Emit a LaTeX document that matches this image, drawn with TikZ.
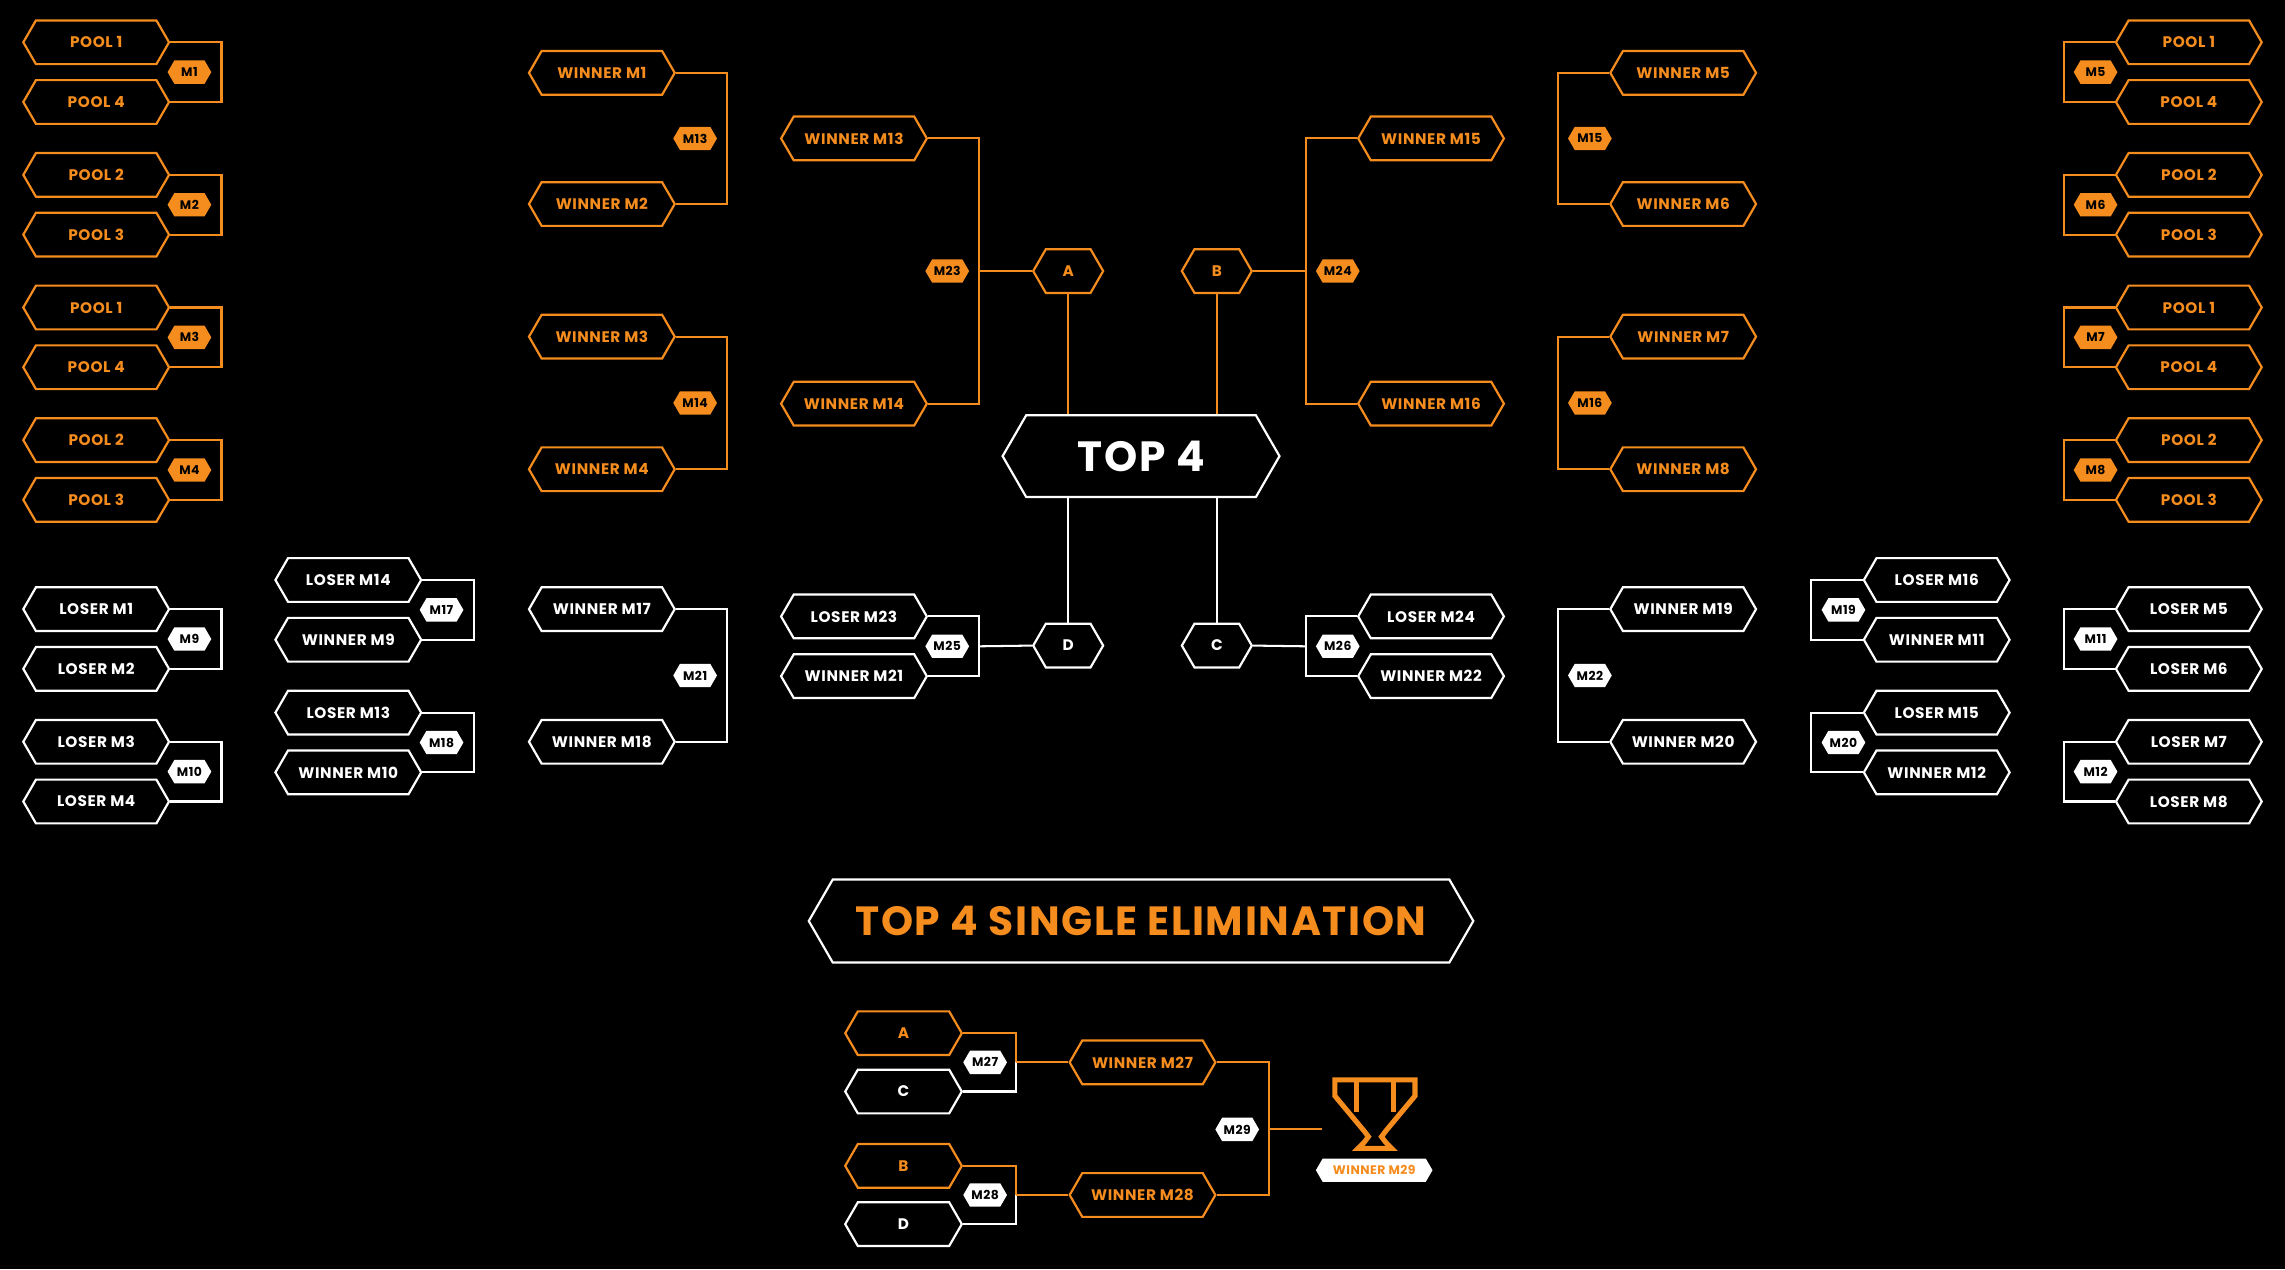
\documentclass[tikz,border=0pt]{standalone}
\usepackage{fontspec}
\setmainfont{Poppins}[LetterSpace=4]
\usetikzlibrary{shapes.symbols}
\definecolor{orng}{RGB}{245,140,30}
\tikzset{
 hexa/.style={shape=signal, signal to=west and east, signal pointer angle=120, inner sep=0pt},
 box/.style={hexa, draw=#1, text=#1, line width=1.5pt, minimum width=100pt, minimum height=30pt, font=\bfseries\fontsize{10.5}{10.5}\selectfont},
 tagb/.style={hexa, fill=#1, text=black, minimum width=30pt, minimum height=16pt, font=\bfseries\fontsize{8.5}{8.5}\selectfont},
 ln/.style={draw=#1, line width=1.4pt},
}
\newcommand\bpair[8]{%
 \pgfmathsetmacro\ym{(#3+#4)/2}%
 \pgfmathsetmacro\xt{#2+\dir*64}%
 \pgfmathsetmacro\xb{#2+\dir*86}%
 \node[box=#5] (#1a) at (#2,#3) {#6};
 \node[box=#5] (#1b) at (#2,#4) {#7};
 \coordinate (#1o) at (\xb,\ym);
 \draw[ln=#5] (#1a.\side) -- (#1a.\side -| #1o) -- (#1b.\side -| #1o) -- (#1b.\side);
 \node[tagb=#5] (#1t) at (\xt,\ym) {#8};
}
\begin{document}
\begin{tikzpicture}[x=1pt,y=-1pt]
\fill[black] (0,0) rectangle (1568,871);
\useasboundingbox (0,0) rectangle (1568,871);
% left
\def\dir{1}\def\side{east}
\bpair{p1}{66}{29}{70}{orng}{POOL 1}{POOL 4}{M1}
\bpair{p2}{66}{120}{161}{orng}{POOL 2}{POOL 3}{M2}
\bpair{p3}{66}{211}{252}{orng}{POOL 1}{POOL 4}{M3}
\bpair{p4}{66}{302}{343}{orng}{POOL 2}{POOL 3}{M4}
\bpair{l9}{66}{418}{459}{white}{LOSER M1}{LOSER M2}{M9}
\bpair{l10}{66}{509}{550}{white}{LOSER M3}{LOSER M4}{M10}
\bpair{c17}{239}{398}{439}{white}{LOSER M14}{WINNER M9}{M17}
\bpair{c18}{239}{489}{530}{white}{LOSER M13}{WINNER M10}{M18}
\bpair{w13}{413}{50}{140}{orng}{WINNER M1}{WINNER M2}{M13}
\bpair{w14}{413}{231}{322}{orng}{WINNER M3}{WINNER M4}{M14}
\bpair{w21}{413}{418}{509}{white}{WINNER M17}{WINNER M18}{M21}
\bpair{w23}{586}{95}{277}{orng}{WINNER M13}{WINNER M14}{M23}
\bpair{w25}{586}{423}{464}{white}{LOSER M23}{WINNER M21}{M25}
% right
\def\dir{-1}\def\side{west}
\bpair{p5}{1502}{29}{70}{orng}{POOL 1}{POOL 4}{M5}
\bpair{p6}{1502}{120}{161}{orng}{POOL 2}{POOL 3}{M6}
\bpair{p7}{1502}{211}{252}{orng}{POOL 1}{POOL 4}{M7}
\bpair{p8}{1502}{302}{343}{orng}{POOL 2}{POOL 3}{M8}
\bpair{l11}{1502}{418}{459}{white}{LOSER M5}{LOSER M6}{M11}
\bpair{l12}{1502}{509}{550}{white}{LOSER M7}{LOSER M8}{M12}
\bpair{c19}{1329}{398}{439}{white}{LOSER M16}{WINNER M11}{M19}
\bpair{c20}{1329}{489}{530}{white}{LOSER M15}{WINNER M12}{M20}
\bpair{w15}{1155}{50}{140}{orng}{WINNER M5}{WINNER M6}{M15}
\bpair{w16}{1155}{231}{322}{orng}{WINNER M7}{WINNER M8}{M16}
\bpair{w22}{1155}{418}{509}{white}{WINNER M19}{WINNER M20}{M22}
\bpair{w24}{982}{95}{277}{orng}{WINNER M15}{WINNER M16}{M24}
\bpair{w26}{982}{423}{464}{white}{LOSER M24}{WINNER M22}{M26}
% centre
\node[box=white, minimum width=190pt, minimum height=56pt, font=\bfseries\fontsize{29}{29}\selectfont] (top4) at (783,313) {TOP 4};
\node[box=orng, minimum width=48pt] (A) at (733,186) {A};
\node[box=orng, minimum width=48pt] (B) at (835,186) {B};
\node[box=white, minimum width=48pt] (D) at (733,443) {D};
\node[box=white, minimum width=48pt] (C) at (835,443) {C};
\draw[ln=orng] (w23o) -- (A.west);
\draw[ln=orng] (w24o) -- (B.east);
\draw[ln=white] (w25o) -- (D.west);
\draw[ln=white] (w26o) -- (C.east);
\draw[ln=orng] (A.south) -- (A.south |- top4.north);
\draw[ln=orng] (B.south) -- (B.south |- top4.north);
\draw[ln=white] (D.north) -- (D.north |- top4.south);
\draw[ln=white] (C.north) -- (C.north |- top4.south);
% title
\node[box=white, text=orng, minimum width=456pt, minimum height=57pt, font=\bfseries\fontsize{28}{28}\selectfont] (title) at (783,632) {TOP 4 SINGLE ELIMINATION};
% final bracket
\node[box=orng, minimum width=80pt] (A2) at (620,709) {A};
\node[box=white, minimum width=80pt] (C2) at (620,749) {C};
\node[box=orng, minimum width=80pt] (B2) at (620,800) {B};
\node[box=white, minimum width=80pt] (D2) at (620,840) {D};
\node[box=orng] (wm27) at (784,729) {WINNER M27};
\node[box=orng] (wm28) at (784,820) {WINNER M28};
\coordinate (j27) at (697,729);
\coordinate (j28) at (697,820);
\coordinate (j29) at (871,775);
\draw[ln=orng] (A2.east) -| (j27);
\draw[ln=white] (C2.east) -| (j27);
\draw[ln=orng] (B2.east) -| (j28);
\draw[ln=white] (D2.east) -| (j28);
\draw[ln=orng] (j27) -- (wm27.west);
\draw[ln=orng] (j28) -- (wm28.west);
\draw[ln=orng] (wm27.east) -| (j29);
\draw[ln=orng] (wm28.east) -| (j29);
\coordinate (cup) at (907,775);
\draw[ln=orng] (j29) -- (cup);
\node[tagb=white] (t27) at (676,729) {M27};
\node[tagb=white] (t28) at (676,820) {M28};
\node[tagb=white] (t29) at (849,775) {M29};
% trophy
\draw[orng, line width=3.5pt, line join=miter]
 (916,741) -- (971,741) -- (971,752) -- (951,776) -- (948,780) -- (951,784)
 -- (955,788) -- (932,788) -- (936,784) -- (939,780) -- (936,776) -- (916,752) -- cycle;
\draw[orng, line width=3.5pt] (931,741) -- (931,763) (956,741) -- (956,763);
\node[tagb=white, text=orng, minimum width=80pt] (w29) at (943,803) {WINNER M29};
\end{tikzpicture}
\end{document}
